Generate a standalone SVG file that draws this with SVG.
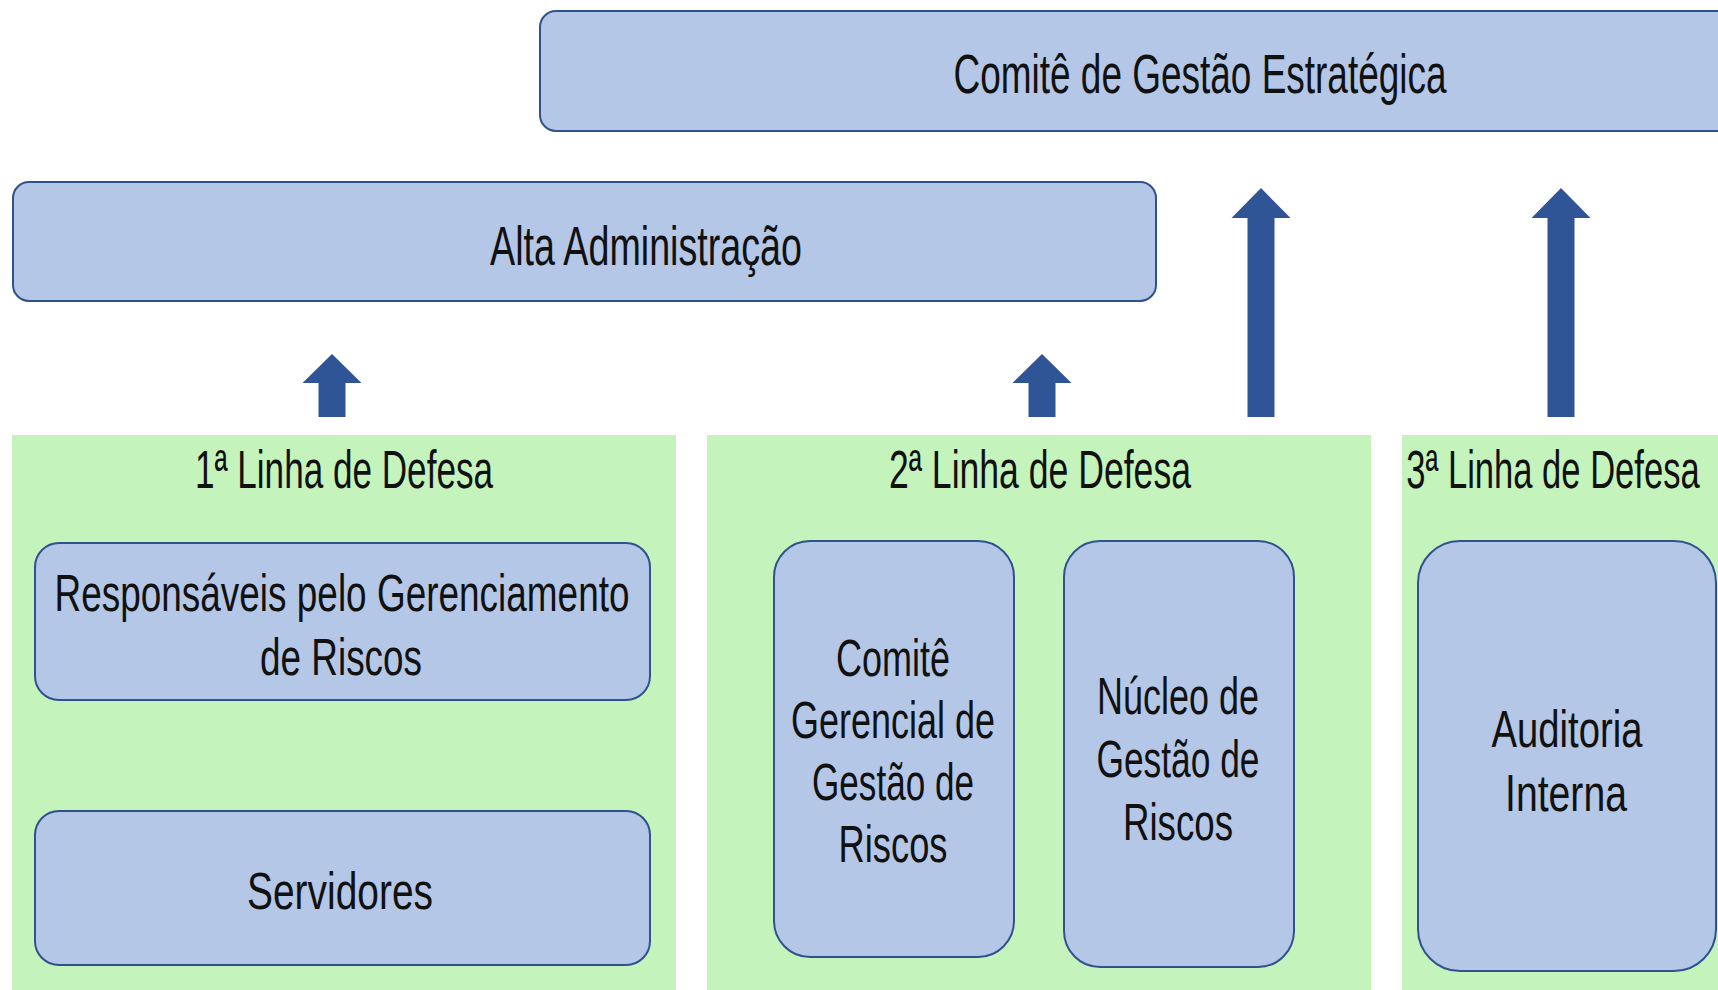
<svg xmlns="http://www.w3.org/2000/svg" width="1718" height="990" viewBox="0 0 1718 990">
<style>
.box{fill:#B4C7E7;stroke:#2F528F;stroke-width:2}
.panel{fill:#C4F3BC}
.t{font-family:"Liberation Sans",Arial,sans-serif;fill:#111;text-anchor:middle}
.big{font-size:56px}
.ttl{font-size:54px}
.in{font-size:52px}
.arrow{fill:#2F5597}
</style>
<rect width="1718" height="990" fill="#FFFFFF"/>
<g id="comite-gestao-estrategica">
<rect class="box" x="540" y="11" width="1200" height="120" rx="16"/>
<text class="t big" x="1200" y="93" textLength="493" lengthAdjust="spacingAndGlyphs">Comitê de Gestão Estratégica</text>
</g>
<g id="alta-administracao">
<rect class="box" x="13" y="182" width="1143" height="119" rx="16"/>
<text class="t big" x="646" y="265" textLength="312" lengthAdjust="spacingAndGlyphs">Alta Administração</text>
</g>
<g id="linha1">
<rect class="panel" x="12" y="435" width="664" height="555"/>
<text class="t ttl" x="344" y="488" textLength="298" lengthAdjust="spacingAndGlyphs">1ª Linha de Defesa</text>
</g>
<g id="linha2">
<rect class="panel" x="707" y="435" width="664" height="555"/>
<text class="t ttl" x="1040" y="488" textLength="302" lengthAdjust="spacingAndGlyphs">2ª Linha de Defesa</text>
</g>
<g id="linha3">
<rect class="panel" x="1402" y="435" width="316" height="555"/>
<text class="t ttl" x="0" y="0" transform="translate(1553,488) scale(0.64,1)">3ª Linha de Defesa</text>
</g>
<g id="responsaveis">
<rect class="box" x="35" y="543" width="615" height="157" rx="24"/>
<text class="t in" x="342" y="611" textLength="575" lengthAdjust="spacingAndGlyphs">Responsáveis pelo Gerenciamento</text>
<text class="t in" x="341" y="675" textLength="162" lengthAdjust="spacingAndGlyphs">de Riscos</text>
</g>
<g id="servidores">
<rect class="box" x="35" y="811" width="615" height="154" rx="24"/>
<text class="t in" x="340" y="909" textLength="186" lengthAdjust="spacingAndGlyphs">Servidores</text>
</g>
<g id="comite-gerencial">
<rect class="box" x="774" y="541" width="240" height="416" rx="36"/>
<text class="t in" x="893" y="676" textLength="114" lengthAdjust="spacingAndGlyphs">Comitê</text>
<text class="t in" x="893" y="738" textLength="204" lengthAdjust="spacingAndGlyphs">Gerencial de</text>
<text class="t in" x="893" y="800" textLength="162" lengthAdjust="spacingAndGlyphs">Gestão de</text>
<text class="t in" x="893" y="862" textLength="109" lengthAdjust="spacingAndGlyphs">Riscos</text>
</g>
<g id="nucleo">
<rect class="box" x="1064" y="541" width="230" height="426" rx="36"/>
<text class="t in" x="1178" y="714" textLength="162" lengthAdjust="spacingAndGlyphs">Núcleo de</text>
<text class="t in" x="1178" y="777" textLength="163" lengthAdjust="spacingAndGlyphs">Gestão de</text>
<text class="t in" x="1178" y="840" textLength="110" lengthAdjust="spacingAndGlyphs">Riscos</text>
</g>
<g id="auditoria">
<rect class="box" x="1418" y="541" width="298" height="430" rx="42"/>
<text class="t in" x="1567" y="747" textLength="151" lengthAdjust="spacingAndGlyphs">Auditoria</text>
<text class="t in" x="1566" y="811" textLength="122" lengthAdjust="spacingAndGlyphs">Interna</text>
</g>
<g id="connectors">
<path class="arrow" d="M332 354 L361.5 383 L345.5 383 L345.5 417 L318.5 417 L318.5 383 L302.5 383 Z"/>
<path class="arrow" d="M1042 354 L1071.5 383 L1055.5 383 L1055.5 417 L1028.5 417 L1028.5 383 L1012.5 383 Z"/>
<path class="arrow" d="M1261 188 L1290.5 218 L1274.5 218 L1274.5 417 L1247.5 417 L1247.5 218 L1231.5 218 Z"/>
<path class="arrow" d="M1561 188 L1590.5 218 L1574.5 218 L1574.5 417 L1547.5 417 L1547.5 218 L1531.5 218 Z"/>
</g>
</svg>
